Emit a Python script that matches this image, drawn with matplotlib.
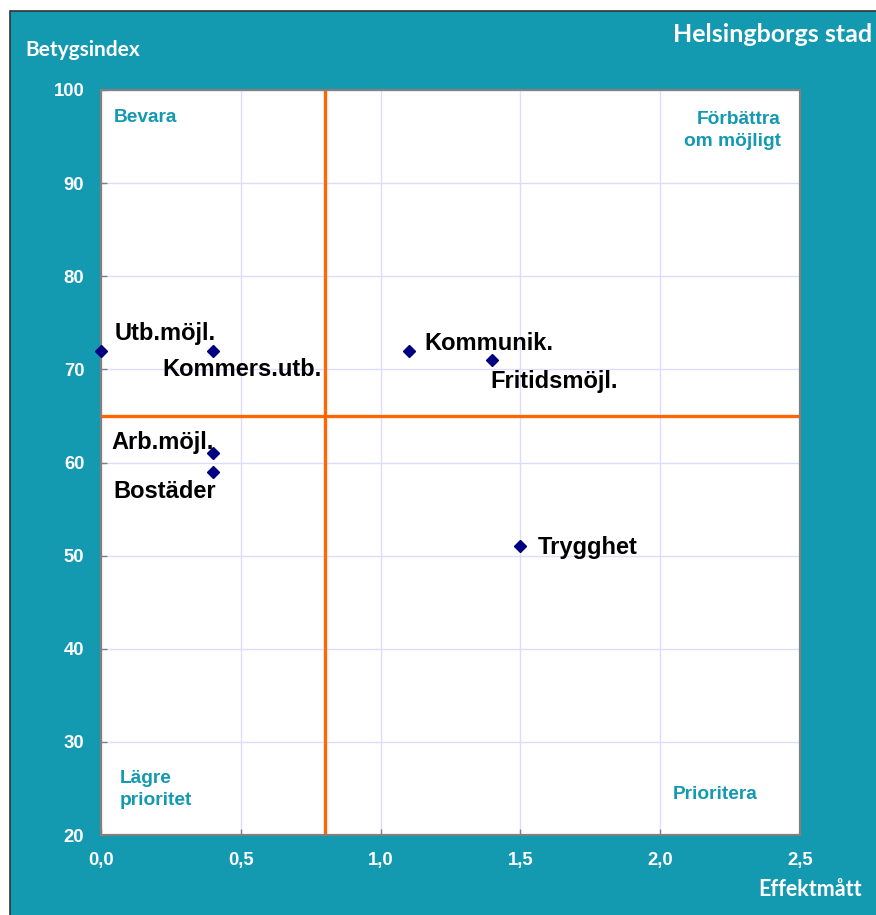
import matplotlib
matplotlib.use('Agg')
import matplotlib.pyplot as plt
from matplotlib.patches import Rectangle

# ── data ──────────────────────────────────────────────────────────────────────
labels   = ['Utb.möjl.', 'Kommers.utb.', 'Kommunik.', 'Fritidsmöjl.',
            'Arb.möjl.', 'Bostäder', 'Trygghet']
effekt   = [0.0, 0.4, 1.1, 1.4, 0.4, 0.4, 1.5]
betyg    = [72, 72, 72, 71, 61, 59, 51]
x_ticks  = [0.0, 0.5, 1.0, 1.5, 2.0, 2.5]
x_tlabel = ['0,0', '0,5', '1,0', '1,5', '2,0', '2,5']
y_ticks  = [20, 30, 40, 50, 60, 70, 80, 90, 100]
x_split  = 0.8
y_split  = 65

# label positions (data coords)
label_pos = [(0.05, 73.9), (0.218, 70.0), (1.155, 72.8), (1.391, 68.75),
             (0.036, 62.1), (0.043, 56.9), (1.563, 50.9)]

# ── colours ───────────────────────────────────────────────────────────────────
TEAL   = '#1399B0'
ORANGE = '#FF6600'
GRID   = '#DCDCFF'
NAVY   = '#000080'

fig = plt.figure(figsize=(8.76, 9.15), dpi=100, facecolor='white')
fig.patches.append(Rectangle((10 / 876, -0.01), 1.0, 1 - 11 / 915 + 0.01,
                             transform=fig.transFigure, facecolor=TEAL,
                             edgecolor='#333333', linewidth=1.2, zorder=-1))

ax = fig.add_axes([101 / 876, 1 - 835 / 915, 699 / 876, 745 / 915])
ax.set_zorder(1)
ax.set_facecolor('white')
ax.set_xlim(0, 2.5)
ax.set_ylim(20, 100)

ax.grid(True, color=GRID, linewidth=1.0, zorder=1)
ax.set_axisbelow(True)

ax.axvline(x_split, color=ORANGE, linewidth=2.4, zorder=2)
ax.axhline(y_split, color=ORANGE, linewidth=2.4, zorder=2)

ax.plot(effekt, betyg, linestyle='none', marker='D', ms=6,
        color=NAVY, zorder=4, clip_on=False)

for lbl, (lx, ly) in zip(labels, label_pos):
    ax.text(lx, ly, lbl, ha='left', va='center', fontsize=17,
            fontweight='bold', family='Liberation Sans', color='black', zorder=5)

# quadrant labels
qkw = dict(fontsize=13.8, fontweight='bold', family='Liberation Sans', color=TEAL,
           linespacing=1.35)
ax.text(0.046, 97.0, 'Bevara', ha='left', va='center', **qkw)
ax.text(2.432, 95.65, 'Förbättra\nom möjligt', ha='right', va='center', **qkw)
ax.text(0.068, 24.9, 'Lägre\nprioritet', ha='left', va='center', **qkw)
ax.text(2.046, 24.3, 'Prioritera', ha='left', va='center', **qkw)

ax.set_xticks(x_ticks)
ax.set_xticklabels(x_tlabel)
ax.set_yticks(y_ticks)
ax.tick_params(direction='in', length=4, color='#808080', width=1,
               labelcolor='white', labelsize=13.3, pad=12)
for t in ax.get_xticklabels() + ax.get_yticklabels():
    t.set_fontweight('bold')
    t.set_family('Liberation Sans')

for s in ax.spines.values():
    s.set_color('#808080')
    s.set_linewidth(1.6)

tkw = dict(color='white', fontweight='bold', family='Lato')
fig.text(25 / 876, 1 - 50 / 915, 'Betygsindex', ha='left', va='center',
         fontsize=15, **tkw)
fig.text(872 / 876, 1 - 34 / 915, 'Helsingborgs stad', ha='right', va='center',
         fontsize=18, **tkw)
fig.text(862 / 876, 1 - 890 / 915, 'Effektmått', ha='right', va='center',
         fontsize=15.5, **tkw)

fig.savefig('out.png', dpi=100, facecolor=fig.get_facecolor())
